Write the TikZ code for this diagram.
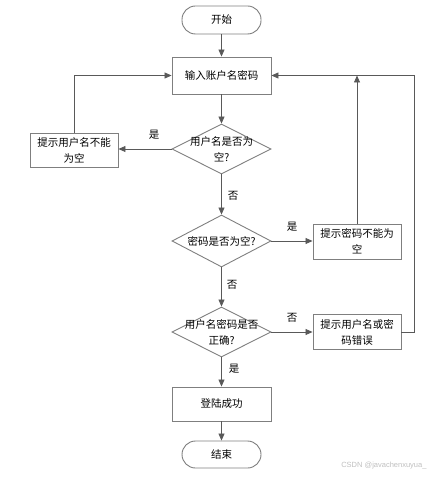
\documentclass[tikz,border=0pt]{standalone}
\usepackage{fontspec}
\newfontfamily\cjk{Noto Sans CJK SC}
\usetikzlibrary{arrows.meta,shapes.geometric,calc}
\definecolor{edge}{HTML}{595959}
\definecolor{bord}{HTML}{7F7F7F}
\begin{document}
\begin{tikzpicture}[x=1pt,y=-1pt,
  every node/.style={font=\cjk\fontsize{10.5}{16}\selectfont, text=black},
  term/.style={draw=bord, line width=0.9pt, rounded corners=13.5pt, minimum width=79pt, inner sep=0pt, align=center},
  proc/.style={draw=bord, line width=0.9pt, inner sep=0pt, align=center},
  dec/.style={draw=bord, line width=0.9pt, diamond, aspect=2, inner sep=-14pt, align=center},
  arr/.style={draw=edge, line width=0.8pt, -{Triangle[length=7pt,width=6pt]}},
  ln/.style={draw=edge, line width=0.8pt},
  lbl/.style={font=\cjk\fontsize{10.5}{12}\selectfont}]
\useasboundingbox (0,0) rectangle (435,478);
\node[term, minimum height=28pt] (start) at (221.5,20) {开始};
\node[proc, minimum width=99pt, minimum height=37pt] (input) at (221.5,75.5) {输入账户名密码};
\node[dec, minimum width=99pt, minimum height=50pt] (d1) at (221.5,149) {用户名是否为\\空?};
\node[proc, minimum width=88pt, minimum height=34pt] (e1) at (74,150) {提示用户名不能\\为空};
\node[dec, minimum width=99pt, minimum height=52pt] (d2) at (221.5,241) {密码是否为空?};
\node[proc, minimum width=88pt, minimum height=35pt] (e2) at (357,241.5) {提示密码不能为\\空};
\node[dec, minimum width=99pt, minimum height=50pt] (d3) at (221.5,332) {用户名密码是否\\正确?};
\node[proc, minimum width=88pt, minimum height=35pt] (e3) at (357,332) {提示用户名或密\\码错误};
\node[proc, minimum width=99pt, minimum height=34pt] (ok) at (221.5,404) {登陆成功};
\node[term, minimum height=27pt] (end) at (221.5,454.5) {结束};
\coordinate (j1) at (357,75.5);
\coordinate (r3) at (414,332);
\coordinate (r3top) at (414,75.5);

\draw[arr] (start) -- (input);
\draw[arr] (input) -- (d1);
\draw[arr] (d1.west) -- (e1.east |- d1.west);
\draw[arr] (e1.north) |- (input.west);
\draw[arr] (d1) -- (d2);
\draw[arr] (d2.east) -- (e2.west |- d2.east);
\draw[arr] (e2.north) -- (j1);
\draw[arr] (d2) -- (d3);
\draw[arr] (d3.east) -- (e3.west |- d3.east);
\draw[ln] (e3.east) -- (r3) -- (r3top);
\draw[arr] (r3top) -- (input.east);
\draw[arr] (d3) -- (ok);
\draw[arr] (ok) -- (end);

\node[lbl] (l1) at (154,135) {是};
\node[lbl] (l2) at (233,196) {否};
\node[lbl] (l3) at (292,227) {是};
\node[lbl] (l4) at (232,285) {否};
\node[lbl] (l5) at (292,318) {否};
\node[lbl] (l6) at (234,369) {是};
\node[font=\fontspec{Liberation Sans}\fontsize{7.5}{9}\selectfont, text=black!25, anchor=east] (wm) at (430,466) {CSDN @javachenxuyua\_};
\end{tikzpicture}
\end{document}
